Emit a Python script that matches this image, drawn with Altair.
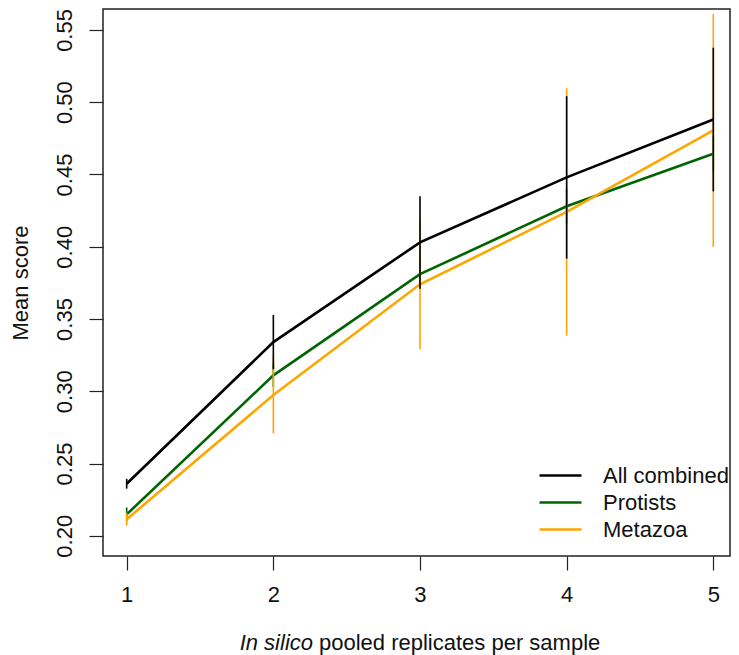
import altair as alt
import pandas as pd

# ---- data ----
x_vals = [1, 2, 3, 4, 5]
series_names = ["All combined", "Protists", "Metazoa"]
series_colors = ["#000000", "#006400", "#FFA500"]

all_mean = [0.236, 0.334, 0.403, 0.448, 0.488]
all_sd = [0.0034, 0.0188, 0.032, 0.0562, 0.0497]
prot_mean = [0.2148, 0.311, 0.381, 0.428, 0.4643]
prot_sd = [0.0048, 0.008, 0.010, 0.012, 0.012]
meta_mean = [0.2114, 0.2974, 0.374, 0.4241, 0.4805]
meta_sd = [0.0045, 0.0266, 0.045, 0.0856, 0.0806]

y_ticks = [0.20, 0.25, 0.30, 0.35, 0.40, 0.45, 0.50, 0.55]
x_title_parts = ["In silico", "pooled replicates per sample"]
y_title = "Mean score"

rows = []
for name, means, sds in [("All combined", all_mean, all_sd),
                         ("Protists", prot_mean, prot_sd),
                         ("Metazoa", meta_mean, meta_sd)]:
    for xv, m, s in zip(x_vals, means, sds):
        rows.append({"series": name, "x": xv, "mean": m, "lo": m - s, "hi": m + s})
df = pd.DataFrame(rows)

FONT = "Liberation Sans"
W, H = 627, 547

xscale = alt.Scale(domain=[0.8384, 5.1139], nice=False, zero=False)
yscale = alt.Scale(domain=[0.1860, 0.5645], nice=False, zero=False)

xaxis = alt.Axis(values=x_vals, format="d", title=None, grid=False, domain=False,
                 ticks=True, tickSize=14, tickColor="#222", tickWidth=1.2,
                 labelFontSize=22, labelFont=FONT, labelColor="#111", labelPadding=14)
yaxis = alt.Axis(values=y_ticks, format=".2f", title=y_title, grid=False, domain=False,
                 ticks=True, tickSize=14, tickColor="#222", tickWidth=1.2,
                 labelFontSize=22, labelFont=FONT, labelColor="#111", labelPadding=13,
                 labelAngle=270, labelAlign="center", labelBaseline="bottom",
                 titleFontSize=22, titleFont=FONT, titleColor="#111",
                 titleFontWeight="normal", titlePadding=21)

color = alt.Color("series:N",
                  scale=alt.Scale(domain=series_names, range=series_colors),
                  legend=alt.Legend(title=None, orient="none", legendX=435, legendY=453,
                                    symbolType="stroke", symbolSize=1764,
                                    symbolStrokeWidth=2.5, labelFontSize=22,
                                    labelFont=FONT, labelColor="#111",
                                    labelOffset=20, rowPadding=0, clipHeight=27,
                                    padding=0))

layers = []
for name in ["Protists", "Metazoa", "All combined"]:
    base = alt.Chart(df).transform_filter(alt.datum.series == name)
    line = base.mark_line(strokeWidth=2.6).encode(
        x=alt.X("x:Q", scale=xscale, axis=xaxis),
        y=alt.Y("mean:Q", scale=yscale, axis=yaxis),
        color=color,
    )
    bars = base.mark_rule(strokeWidth=1.6).encode(
        x=alt.X("x:Q", scale=xscale, axis=xaxis),
        y=alt.Y("lo:Q", scale=yscale, axis=yaxis),
        y2="hi:Q",
        color=color,
    )
    layers += [line, bars]

title_df = pd.DataFrame({"t": x_title_parts})
t_it = alt.Chart(title_df).transform_filter(alt.datum.t == x_title_parts[0]).mark_text(
    font=FONT, fontSize=22, fontStyle="italic", align="right", baseline="alphabetic",
    color="#111").encode(text="t:N", x=alt.value(210), y=alt.value(641))
t_rest = alt.Chart(title_df).transform_filter(alt.datum.t == x_title_parts[1]).mark_text(
    font=FONT, fontSize=22, align="left", baseline="alphabetic",
    color="#111").encode(text="t:N", x=alt.value(216), y=alt.value(641))

chart = alt.layer(*layers, t_it, t_rest).properties(
    width=W, height=H,
    autosize=alt.AutoSizeParams(type="none"),
    padding={"left": 95, "top": 1, "right": 1, "bottom": 99},
).configure_view(stroke="#222", strokeWidth=1.5)

chart.save("out.html", embed_options={"renderer": "svg", "actions": False})
